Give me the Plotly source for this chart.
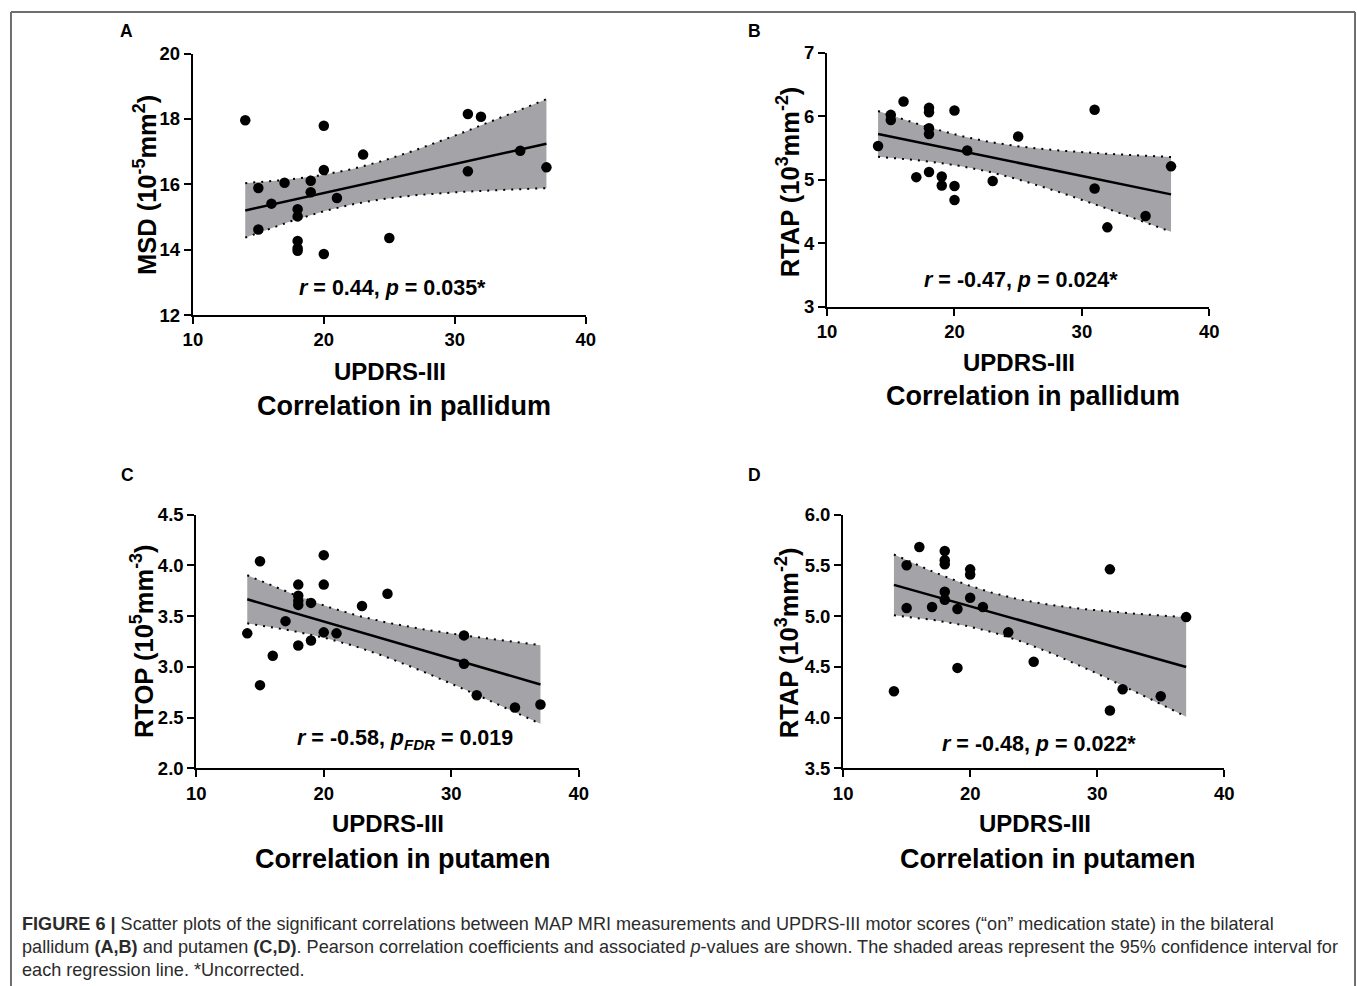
import numpy as np
import plotly.graph_objects as go

# The page is photographed with an offset and a slight shrink (body margin etc.);
# positions below are given in reference pixels and mapped through that measured transform.
KX, AX = 0.985, 10.5
KY, AY = 0.977, 10.8
W, H = 1368, 999

# ---------------- data ----------------
updrs = [14, 15, 15, 16, 17, 18, 18, 18, 18, 18, 19, 19, 20, 20, 20, 21, 23, 25, 31, 31, 32, 35, 37]
msd_pallidum = [17.96, 15.89, 14.62, 15.41, 16.05, 15.24, 15.02, 14.27, 14.05, 13.97, 16.11, 15.76,
                17.79, 16.44, 13.87, 15.58, 16.91, 14.36, 18.15, 16.40, 18.07, 17.03, 16.52]
rtap_pallidum = [5.53, 6.02, 5.94, 6.23, 5.04, 6.13, 6.06, 5.81, 5.72, 5.12, 5.05, 4.91,
                 6.09, 4.90, 4.68, 5.46, 4.98, 5.68, 6.10, 4.86, 4.25, 4.43, 5.21]
rtop_putamen = [3.33, 4.04, 2.82, 3.11, 3.45, 3.81, 3.70, 3.65, 3.61, 3.21, 3.63, 3.26,
                4.10, 3.81, 3.34, 3.33, 3.60, 3.72, 3.31, 3.03, 2.72, 2.60, 2.63]
rtap_putamen = [4.26, 5.50, 5.08, 5.68, 5.09, 5.64, 5.55, 5.51, 5.24, 5.16, 5.07, 4.49,
                5.46, 5.41, 5.18, 5.09, 4.84, 4.55, 5.46, 4.07, 4.28, 4.21, 4.99]

panel_letters = ["A", "B", "C", "D"]
y_titles = ["MSD (10<sup>-5</sup>mm<sup>2</sup>)", "RTAP (10<sup>3</sup>mm<sup>-2</sup>)",
            "RTOP (10<sup>5</sup>mm<sup>-3</sup>)", "RTAP (10<sup>3</sup>mm<sup>-2</sup>)"]
stats_text = ["<i>r</i> = 0.44, <i>p</i> = 0.035*", "<i>r</i> = -0.47, <i>p</i> = 0.024*",
              "<i>r</i> = -0.58, <i>p<sub>FDR</sub></i> = 0.019", "<i>r</i> = -0.48, <i>p</i> = 0.022*"]
region_titles = ["Correlation in pallidum", "Correlation in pallidum",
                 "Correlation in putamen", "Correlation in putamen"]
x_title = "UPDRS-III"
x_ticks = [10, 20, 30, 40]
y_ticks = [[12, 14, 16, 18, 20], [3, 4, 5, 6, 7], [2.0, 2.5, 3.0, 3.5, 4.0, 4.5], [3.5, 4.0, 4.5, 5.0, 5.5, 6.0]]
y_formats = ["d", "d", ".1f", ".1f"]
series = [msd_pallidum, rtap_pallidum, rtop_putamen, rtap_putamen]
T_CRIT = 2.080  # t(0.975, df=21)

caption_lines = [
    "<b>FIGURE 6 |</b> Scatter plots of the significant correlations between MAP MRI measurements and UPDRS-III motor scores (\u201con\u201d medication state) in the bilateral",
    "pallidum <b>(A,B)</b> and putamen <b>(C,D)</b>. Pearson correlation coefficients and associated <i>p</i>-values are shown. The shaded areas represent the 95% confidence interval for",
    "each regression line. *Uncorrected.",
]

# ---------------- layout geometry (reference pixels) ----------------
areas = [(193.3, 586.0, 53.3, 314.3), (827.3, 1209.3, 52.3, 306.0),
         (196.7, 579.0, 513.3, 766.7), (843.3, 1224.3, 513.3, 766.7)]
letter_pos = [(127, 31), (755, 31), (128, 474), (755, 474)]
ytitle_pos = [(145, 185), (788, 181), (143, 640), (788, 641)]
stats_pos = [(393, 287), (1021, 279), (405, 738), (1039, 742)]
xtitle_pos = [(390, 371), (1019, 362), (388, 822), (1035, 822)]
region_pos = [(404, 405), (1033, 395), (403, 857), (1048, 857)]

FONT = "Liberation Sans, Arial, Helvetica, sans-serif"


def px(x):
    return ((x - AX) / KX) / W


def py(y):
    return 1 - ((y - AY) / KY) / H


fig = go.Figure()
annotations = []
layout_axes = {}

for i in range(4):
    xs = np.array(updrs, dtype=float)
    ys = np.array(series[i], dtype=float)
    n = len(xs)
    b, a = np.polyfit(xs, ys, 1)
    resid = ys - (a + b * xs)
    s = np.sqrt(np.sum(resid ** 2) / (n - 2))
    sxx = np.sum((xs - xs.mean()) ** 2)
    xg = np.linspace(xs.min(), xs.max(), 100)
    yfit = a + b * xg
    se = s * np.sqrt(1.0 / n + (xg - xs.mean()) ** 2 / sxx)
    lo = yfit - T_CRIT * se
    hi = yfit + T_CRIT * se

    sfx = "" if i == 0 else str(i + 1)
    xa, ya = "x" + sfx, "y" + sfx

    fig.add_trace(go.Scatter(x=np.concatenate([xg, xg[::-1]]), y=np.concatenate([hi, lo[::-1]]),
                             fill="toself", fillcolor="#a3a3a8", line=dict(width=0),
                             mode="lines", xaxis=xa, yaxis=ya, showlegend=False, hoverinfo="skip"))
    fig.add_trace(go.Scatter(x=xg, y=hi, mode="lines", line=dict(color="black", width=2, dash="2px,6px"),
                             xaxis=xa, yaxis=ya, showlegend=False))
    fig.add_trace(go.Scatter(x=xg, y=lo, mode="lines", line=dict(color="black", width=2, dash="2px,6px"),
                             xaxis=xa, yaxis=ya, showlegend=False))
    fig.add_trace(go.Scatter(x=xg, y=yfit, mode="lines", line=dict(color="black", width=2.5),
                             xaxis=xa, yaxis=ya, showlegend=False))
    fig.add_trace(go.Scatter(x=xs, y=ys, mode="markers", marker=dict(color="black", size=10.5),
                             xaxis=xa, yaxis=ya, showlegend=False, cliponaxis=False))

    xl, xr, yt, yb = areas[i]
    yt_vals = y_ticks[i]
    layout_axes["xaxis" + sfx] = dict(
        domain=[px(xl), px(xr)], range=[10, 40], anchor=ya, tickvals=x_ticks,
        showline=True, linecolor="black", linewidth=2, ticks="outside", ticklen=7, tickwidth=2,
        tickcolor="black", showgrid=False, zeroline=False,
        tickfont=dict(family=FONT, size=18.5, color="black", weight="bold"))
    layout_axes["yaxis" + sfx] = dict(
        domain=[py(yb), py(yt)], range=[yt_vals[0], yt_vals[-1]], anchor=xa, tickvals=yt_vals,
        tickformat=y_formats[i],
        showline=True, linecolor="black", linewidth=2, ticks="outside", ticklen=7, tickwidth=2,
        tickcolor="black", showgrid=False, zeroline=False,
        tickfont=dict(family=FONT, size=18.5, color="black", weight="bold"))

    def ann(text, pos, size, angle=0, xanchor="center"):
        annotations.append(dict(text=text, x=px(pos[0]), y=py(pos[1]), xref="paper", yref="paper",
                                xanchor=xanchor, yanchor="middle", showarrow=False, textangle=angle,
                                font=dict(family=FONT, size=size, color="black", weight="bold")))

    ann(panel_letters[i], letter_pos[i], 17.5)
    ann(y_titles[i], ytitle_pos[i], 25.5, angle=-90)
    ann(stats_text[i], stats_pos[i], 21.5)
    ann(x_title, xtitle_pos[i], 24)
    ann(region_titles[i], region_pos[i], 27)

for k, line in enumerate(caption_lines):
    annotations.append(dict(text=line, x=px(20), y=py(922 + 23 * k), xref="paper", yref="paper",
                            xanchor="left", yanchor="middle", showarrow=False,
                            font=dict(family=FONT, size=18.1, color="#2b2b2b")))

BX0, BY0 = 1.0 / W, 1 - 1.0 / H
BX1 = min(px(1355), (W - 1.0) / W)
shapes = [
    dict(type="line", xref="paper", yref="paper", x0=BX0, x1=BX1, y0=BY0, y1=BY0,
         line=dict(color="#6e6e6e", width=2)),
    dict(type="line", xref="paper", yref="paper", x0=BX0, x1=BX0, y0=BY0, y1=0,
         line=dict(color="#6e6e6e", width=2)),
    dict(type="line", xref="paper", yref="paper", x0=BX1, x1=BX1, y0=BY0, y1=0,
         line=dict(color="#6e6e6e", width=2)),
]

fig.update_layout(width=W, height=H, margin=dict(l=0, r=0, t=0, b=0),
                  paper_bgcolor="white", plot_bgcolor="white",
                  annotations=annotations, shapes=shapes, showlegend=False,
                  **layout_axes)

fig.write_html("out.html")
